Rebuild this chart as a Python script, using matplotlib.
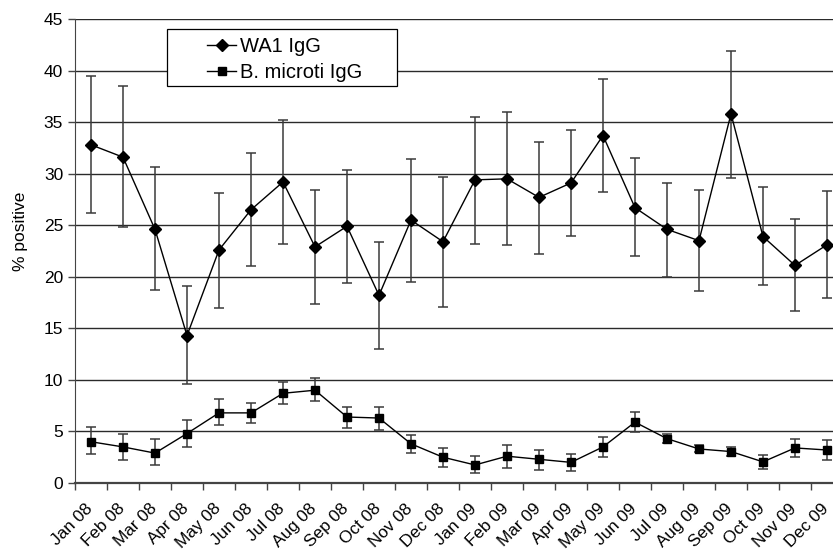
import matplotlib.pyplot as plt
import matplotlib.patches as patches
import matplotlib.transforms as mtransforms
import numpy as np

plt.rcParams['font.family'] = ['Liberation Sans', 'DejaVu Sans']

months = ['Jan 08', 'Feb 08', 'Mar 08', 'Apr 08', 'May 08', 'Jun 08',
          'Jul 08', 'Aug 08', 'Sep 08', 'Oct 08', 'Nov 08', 'Dec 08',
          'Jan 09', 'Feb 09', 'Mar 09', 'Apr 09', 'May 09', 'Jun 09',
          'Jul 09', 'Aug 09', 'Sep 09', 'Oct 09', 'Nov 09', 'Dec 09']

# WA1 IgG, % positive with upper / lower confidence limits
wa1 = [32.8, 31.6, 24.6, 14.3, 22.6, 26.5, 29.2, 22.9, 24.9, 18.2, 25.5, 23.4,
       29.4, 29.5, 27.7, 29.1, 33.7, 26.7, 24.6, 23.5, 35.8, 23.9, 21.1, 23.1]
wa1_hi = [39.5, 38.5, 30.6, 19.1, 28.1, 32.0, 35.2, 28.4, 30.4, 23.4, 31.4, 29.7,
          35.5, 36.0, 33.1, 34.2, 39.2, 31.5, 29.1, 28.4, 41.9, 28.7, 25.6, 28.3]
wa1_lo = [26.2, 24.8, 18.7, 9.6, 17.0, 21.0, 23.2, 17.4, 19.4, 13.0, 19.5, 17.1,
          23.2, 23.1, 22.2, 24.0, 28.2, 22.0, 20.0, 18.6, 29.6, 19.2, 16.7, 17.9]

# B. microti IgG
bm = [4.0, 3.5, 2.9, 4.8, 6.8, 6.8, 8.7, 9.0, 6.4, 6.3, 3.8, 2.5,
      1.75, 2.6, 2.3, 2.0, 3.5, 5.9, 4.3, 3.3, 3.05, 2.05, 3.4, 3.2]
bm_hi = [5.4, 4.8, 4.3, 6.1, 8.1, 7.8, 9.8, 10.2, 7.4, 7.4, 4.7, 3.4,
         2.6, 3.7, 3.2, 2.85, 4.5, 6.85, 4.8, 3.65, 3.45, 2.75, 4.3, 4.15]
bm_lo = [2.8, 2.2, 1.75, 3.5, 5.6, 5.8, 7.7, 8.0, 5.3, 5.1, 2.9, 1.6,
         0.95, 1.5, 1.3, 1.2, 2.55, 4.95, 3.85, 3.0, 2.6, 1.4, 2.5, 2.2]

x = np.arange(len(months)) + 0.5

fig = plt.figure(figsize=(8.33, 5.5), dpi=100)
ax = fig.add_axes([75 / 833, 1 - 483 / 550, 768 / 833, 464 / 550])

for vals, hi, lo, mk, ms, lab in [(wa1, wa1_hi, wa1_lo, 'D', 6.5, 'WA1 IgG'),
                                   (bm, bm_hi, bm_lo, 's', 6.0, 'B. microti IgG')]:
    vals = np.array(vals)
    err = [vals - np.array(lo), np.array(hi) - vals]
    ax.errorbar(x, vals, yerr=err, fmt='none', ecolor='#3a3a3a',
                elinewidth=1.1, capsize=3.5, capthick=1.1, zorder=2)
    ax.plot(x, vals, color='black', lw=1.0, marker=mk, ms=ms,
            mfc='black', mec='black', label=lab, zorder=3)

ax.set_xlim(0, 24)
ax.set_ylim(0, 45)
ax.set_yticks(range(0, 46, 5))
ax.set_xticks(np.arange(0, 25))
ax.set_xticklabels([])

# month labels: rotated, ending just left of each category centre
lab_tr = ax.get_xaxis_transform() + mtransforms.ScaledTranslation(
    -6 / 100, -18 / 100, fig.dpi_scale_trans)
for xi, m in zip(x, months):
    ax.text(xi, 0, m, transform=lab_tr, rotation=45, ha='right', va='top',
            rotation_mode='anchor', fontsize=12.3, clip_on=False)

ax.tick_params(axis='x', length=5, width=1, color='#444444', direction='out')
ax.tick_params(axis='y', length=5, width=1, color='#444444', labelsize=12.5,
               direction='out')
ax.yaxis.grid(True, color='#2a2a2a', lw=1.0)
ax.set_axisbelow(True)
for s in ['top', 'right']:
    ax.spines[s].set_visible(False)
ax.spines['left'].set_color('#444444')
ax.spines['bottom'].set_color('#444444')
ax.spines['bottom'].set_linewidth(1.6)
ax.set_ylabel('% positive', fontsize=12.5, labelpad=11)
ax.yaxis.label.set_y(0.543)

# legend box drawn separately to get the wide side padding
box = patches.Rectangle((167 / 833, 1 - 86 / 550), 230 / 833, 57 / 550,
                        transform=fig.transFigure, facecolor='white',
                        edgecolor='black', lw=0.9, zorder=4)
fig.add_artist(box)
leg = fig.legend(loc='upper left', bbox_to_anchor=(207 / 833, 1 - 37 / 550),
                 fontsize=14.5, frameon=False, handlelength=1.45,
                 borderpad=0, borderaxespad=0, handletextpad=0.2,
                 labelspacing=0.35)
leg.set_zorder(5)

fig.savefig('out.png', dpi=100)
